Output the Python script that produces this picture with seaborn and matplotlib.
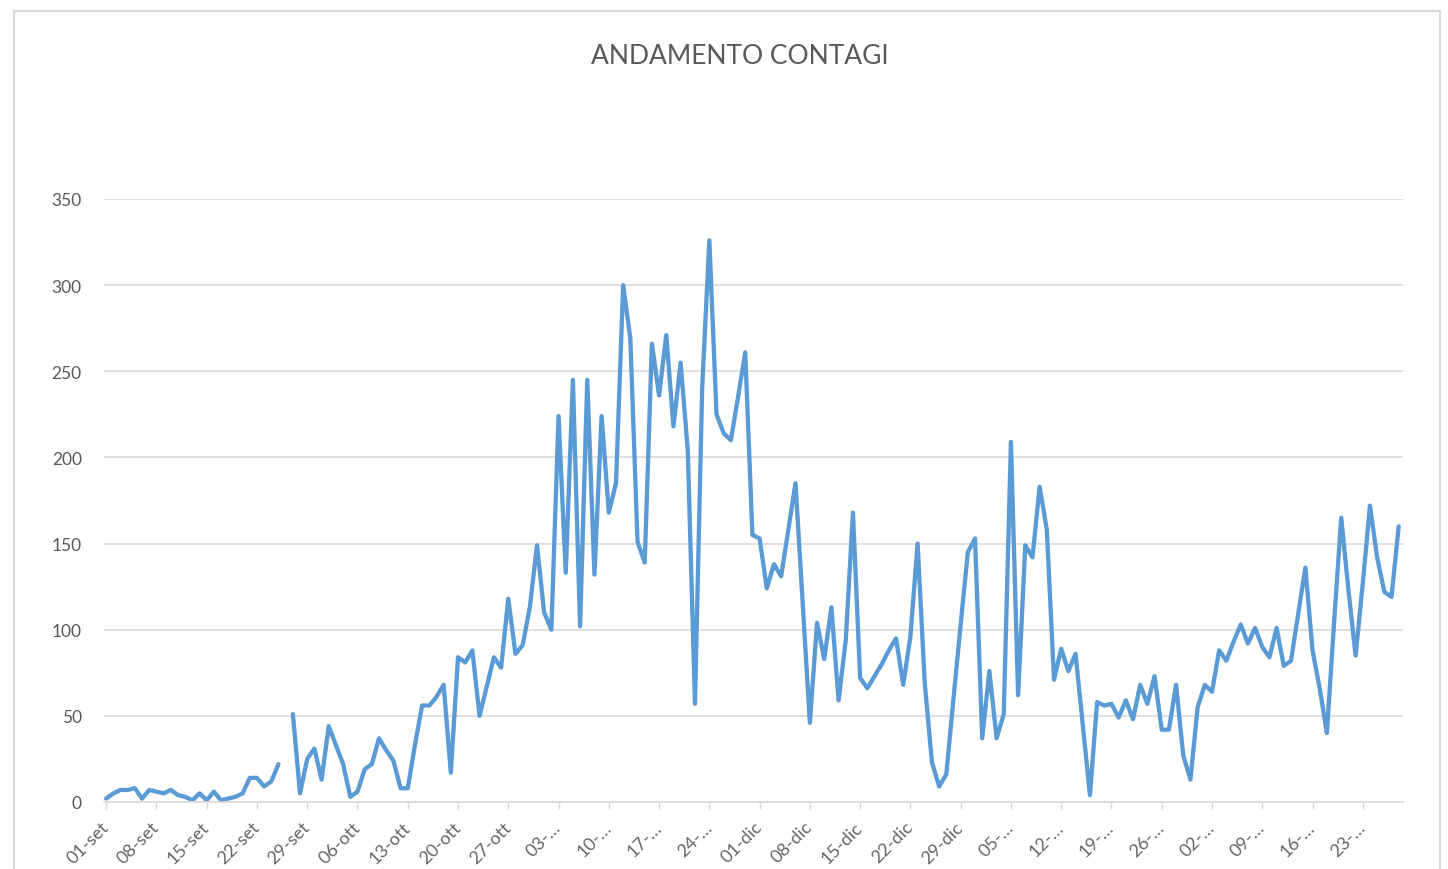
import numpy as np
import pandas as pd
import matplotlib
matplotlib.use("Agg")
import matplotlib.pyplot as plt
import seaborn as sns
from matplotlib.patches import Rectangle

# Daily new cases, 01-set .. 28-feb (one value per day, NaN = missing day)
contagi = [
    2, 5, 7, 7, 8, 2, 7, 6, 5, 7,
    4, 3, 1, 5, 1, 6, 1, 2, 3, 5,
    14, 14, 9, 12, 22, np.nan, 51, 5, 25, 31,
    13, 44, 33, 22, 3, 6, 19, 22, 37, 30,
    24, 8, 8, 33, 56, 56, 61, 68, 17, 84,
    81, 88, 50, 67, 84, 78, 118, 86, 91, 113,
    149, 110, 100, 224, 133, 245, 102, 245, 132, 224,
    168, 185, 300, 269, 151, 139, 266, 236, 271, 218,
    255, 204, 57, 240, 326, 225, 214, 210, 235, 261,
    155, 153, 124, 138, 131, 158, 185, 115, 46, 104,
    83, 113, 59, 94, 168, 72, 66, 73, 80, 88,
    95, 68, 96, 150, 69, 23, 9, 16, 60, 103,
    145, 153, 37, 76, 37, 51, 209, 62, 149, 142,
    183, 158, 71, 89, 76, 86, 45, 4, 58, 56,
    57, 49, 59, 48, 68, 57, 73, 42, 42, 68,
    27, 13, 55, 68, 64, 88, 82, 93, 103, 92,
    101, 90, 84, 101, 79, 82, 109, 136, 88, 66,
    40, 104, 165, 123, 85, 127, 172, 142, 122, 119,
    160,
]

tick_labels = [
    "01-set", "08-set", "15-set", "22-set", "29-set", "06-ott", "13-ott",
    "20-ott", "27-ott", "03-…", "10-…", "17-…", "24-…", "01-dic", "08-dic",
    "15-dic", "22-dic", "29-dic", "05-…", "12-…", "19-…", "26-…", "02-…",
    "09-…", "16-…", "23-…",
]
y_ticks = [0, 50, 100, 150, 200, 250, 300, 350]
title = "ANDAMENTO CONTAGI"

sns.set_theme(style="white")
plt.rcParams['font.family'] = ['Lato', 'DejaVu Sans']

W, H = 1448, 870
fig = plt.figure(figsize=(W / 100, H / 100), dpi=100)
fig.patch.set_facecolor("white")
ax = fig.add_axes([104 / W, 1 - 803 / H, (1403 - 104) / W, (803 - 200) / H])

df = pd.DataFrame({"giorno": np.arange(len(contagi)), "contagi": contagi})
df["tratto"] = df["contagi"].isna().cumsum()
df = df.dropna()

sns.lineplot(data=df, x="giorno", y="contagi", units="tratto", estimator=None,
             color="#5B9BD5", linewidth=3.1, ax=ax, legend=False)

ax.set_xlim(-0.3, 180.6)
ax.set_ylim(0, 350)
ax.set_yticks(y_ticks)
ax.set_yticklabels([str(v) for v in y_ticks])
ax.set_xticks(np.arange(len(tick_labels)) * 7)
ax.set_xticklabels(tick_labels, rotation=45, ha="right", va="center",
                   rotation_mode="anchor")
ax.set_xlabel("")
ax.set_ylabel("")

ax.grid(axis="y", color="#d9d9d9", linewidth=1.2)
ax.grid(axis="x", visible=False)
ax.set_axisbelow(True)
for s in ["top", "right", "left"]:
    ax.spines[s].set_visible(False)
ax.spines["bottom"].set_color("#d9d9d9")
ax.spines["bottom"].set_linewidth(1.2)

ax.tick_params(axis="y", length=0, pad=16, labelsize=12.5, labelcolor="#595959")
ax.tick_params(axis="x", length=5, width=1, color="#d9d9d9", pad=11,
               labelsize=13, labelcolor="#666666", direction="out", bottom=True)

fig.text(740 / W, 1 - 57 / H, title, ha="center", va="center",
         fontsize=19, color="#595959")

fig.patches.append(Rectangle((14 / W, -0.02), (1440 - 14) / W, 1 - 12 / H + 0.02,
                             transform=fig.transFigure, fill=False,
                             edgecolor="#d9d9d9", linewidth=1.5))

fig.savefig("out.png", dpi=100)
